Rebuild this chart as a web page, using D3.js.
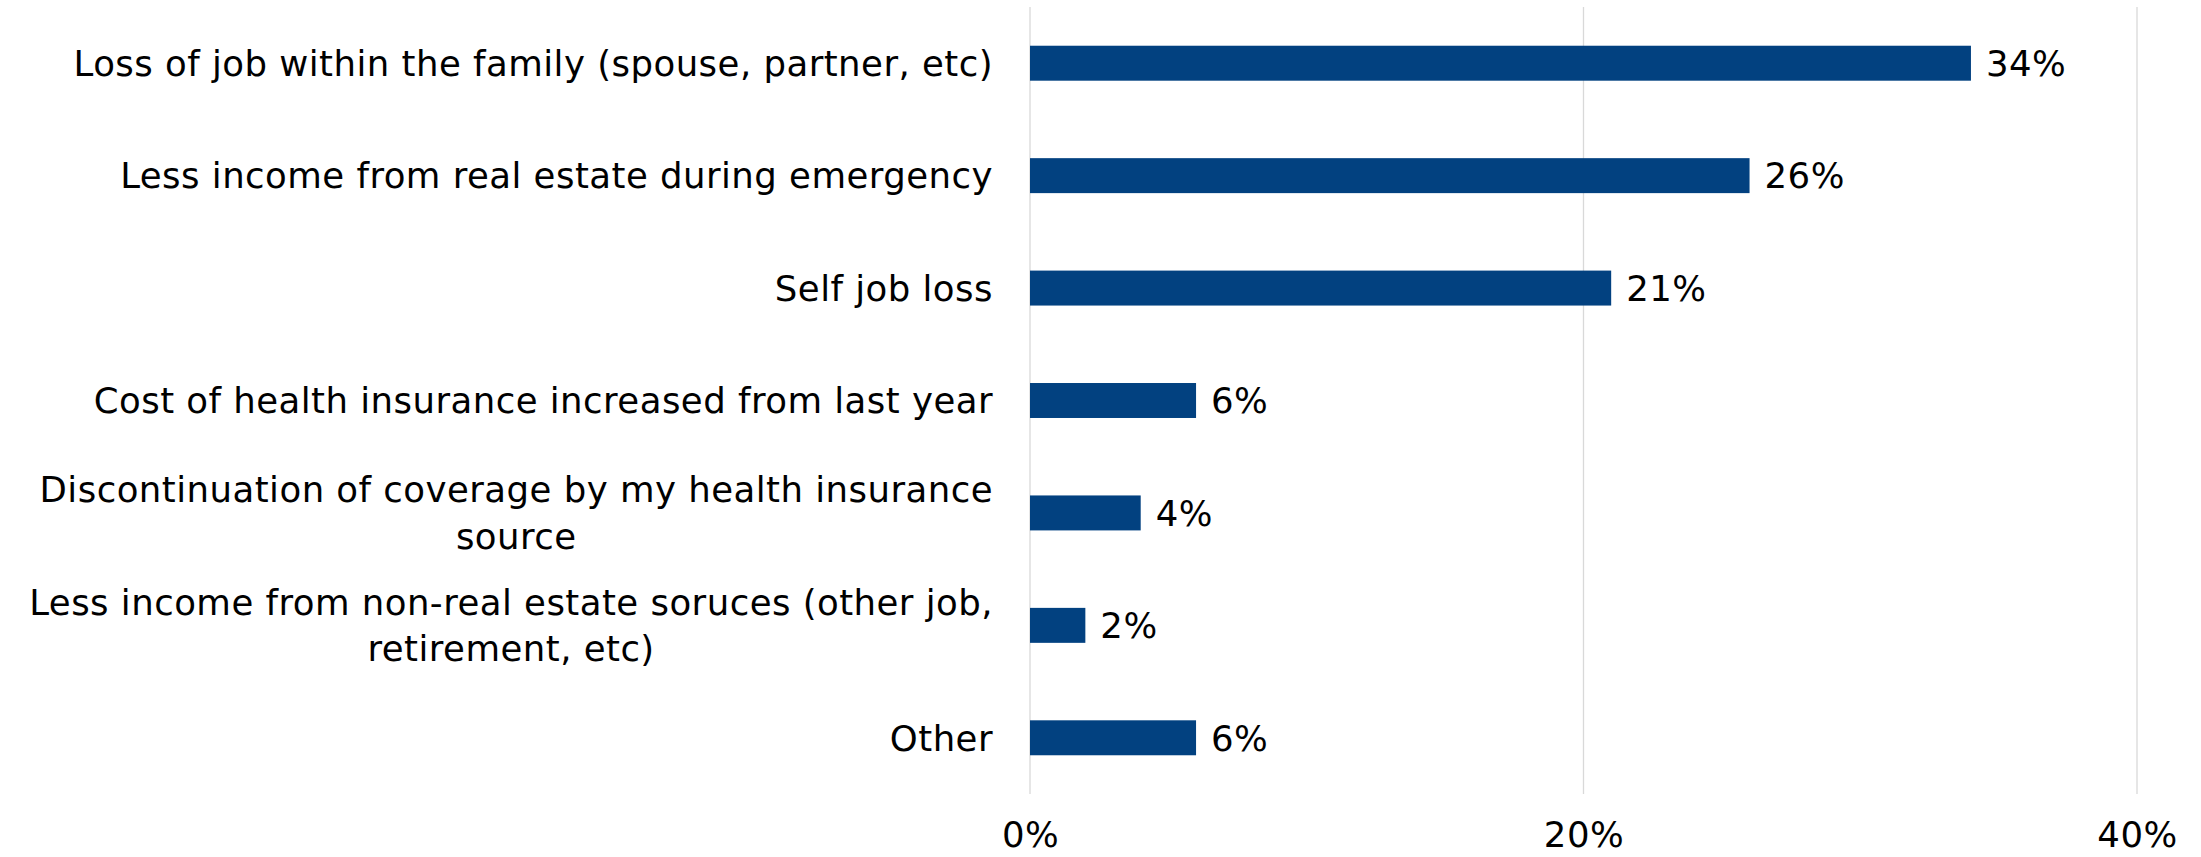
<!DOCTYPE html>
<html>
<head>
<meta charset="utf-8">
<script src="https://cdn.jsdelivr.net/npm/d3@7"></script>
<style>
  html, body { margin: 0; padding: 0; background: #ffffff; }
  svg { display: block; }
  text { font-family: "DejaVu Sans", "Open Sans", sans-serif; fill: #000; }
</style>
</head>
<body>
<svg id="chart" width="2201" height="857"></svg>
<script>
const categories = [
  "Loss of job within the family (spouse, partner, etc)",
  "Less income from real estate during emergency",
  "Self job loss",
  "Cost of health insurance increased from last year",
  "Discontinuation of coverage by my health insurance source",
  "Less income from non-real estate soruces (other job, retirement, etc)",
  "Other"
];
const values = [34, 26, 21, 6, 4, 2, 6];
const tickValues = [0, 20, 40];
const tickLabels = ["0%", "20%", "40%"];

const W = 2201, H = 857;
const margin = { left: 1030, right: 64, top: 7, bottom: 63 };
const barColor = "#024180";
const gridColor = "#d9d9d9";
const fontFamily = '"DejaVu Sans", "Open Sans", sans-serif';
const fontSize = 35.5;

const svg = d3.select("#chart");

const x = d3.scaleLinear().domain([0, 40]).range([margin.left, W - margin.right]);
const y = d3.scaleBand().domain(categories).range([margin.top, H - margin.bottom]).paddingInner(0.689).paddingOuter(0.3445);

// letter spacing so the longest single-line label matches the original width
const probe = svg.append("text").style("font-family", fontFamily).style("font-size", fontSize + "px").text(categories[0]);
const natural = probe.node().getComputedTextLength();
probe.remove();
const ls = (919 - natural) / (categories[0].length - 1);

function styleText(sel) {
  return sel.style("font-size", fontSize + "px").style("letter-spacing", ls + "px")
    .style("font-family", fontFamily).attr("fill", "#000");
}

// gridlines
svg.append("g").selectAll("line").data(tickValues).join("line")
  .attr("x1", d => x(d)).attr("x2", d => x(d))
  .attr("y1", margin.top).attr("y2", H - margin.bottom)
  .attr("stroke", gridColor).attr("stroke-width", 1.3);

// x axis tick labels
const xAxis = d3.axisBottom(x).tickValues(tickValues).tickFormat((d, i) => tickLabels[i]).tickSize(0).tickPadding(0);
const gx = svg.append("g").attr("transform", `translate(0,${H - margin.bottom})`).call(xAxis);
gx.select(".domain").remove();
gx.selectAll("text").attr("y", 53).attr("dy", 0).call(styleText);

// bars
svg.append("g").selectAll("rect").data(values).join("rect")
  .attr("x", x(0))
  .attr("y", (d, i) => y(categories[i]))
  .attr("width", d => x(d) - x(0))
  .attr("height", y.bandwidth())
  .attr("fill", barColor);

// value labels
svg.append("g").selectAll("text").data(values).join("text")
  .attr("x", d => x(d) + 15)
  .attr("y", (d, i) => y(categories[i]) + y.bandwidth() / 2)
  .attr("dy", "0.36em")
  .call(styleText)
  .text(d => d + "%");

// category labels with wrapping (centered block, right-aligned at labelRight)
const labelRight = 993;
const maxW = 1010;
const lineH = 46.7;
const measure = svg.append("text").call(styleText);
function textW(s) { measure.text(s); return measure.node().getComputedTextLength(); }
const gl = svg.append("g");
categories.forEach((c, i) => {
  const words = c.split(" ");
  const lines = [];
  let cur = "";
  words.forEach(w => {
    const t = cur ? cur + " " + w : w;
    if (cur && textW(t) > maxW) { lines.push(cur); cur = w; } else { cur = t; }
  });
  lines.push(cur);
  const widths = lines.map(textW);
  const blockW = d3.max(widths);
  const cx = labelRight - blockW / 2;
  const cy = y(c) + y.bandwidth() / 2;
  const t = gl.append("text")
    .attr("text-anchor", lines.length > 1 ? "middle" : "end")
    .call(styleText);
  lines.forEach((ln, j) => {
    t.append("tspan")
      .attr("x", lines.length > 1 ? cx : labelRight)
      .attr("y", cy + (j - (lines.length - 1) / 2) * lineH)
      .attr("dy", "0.36em")
      .text(ln);
  });
});
measure.remove();
</script>
</body>
</html>
